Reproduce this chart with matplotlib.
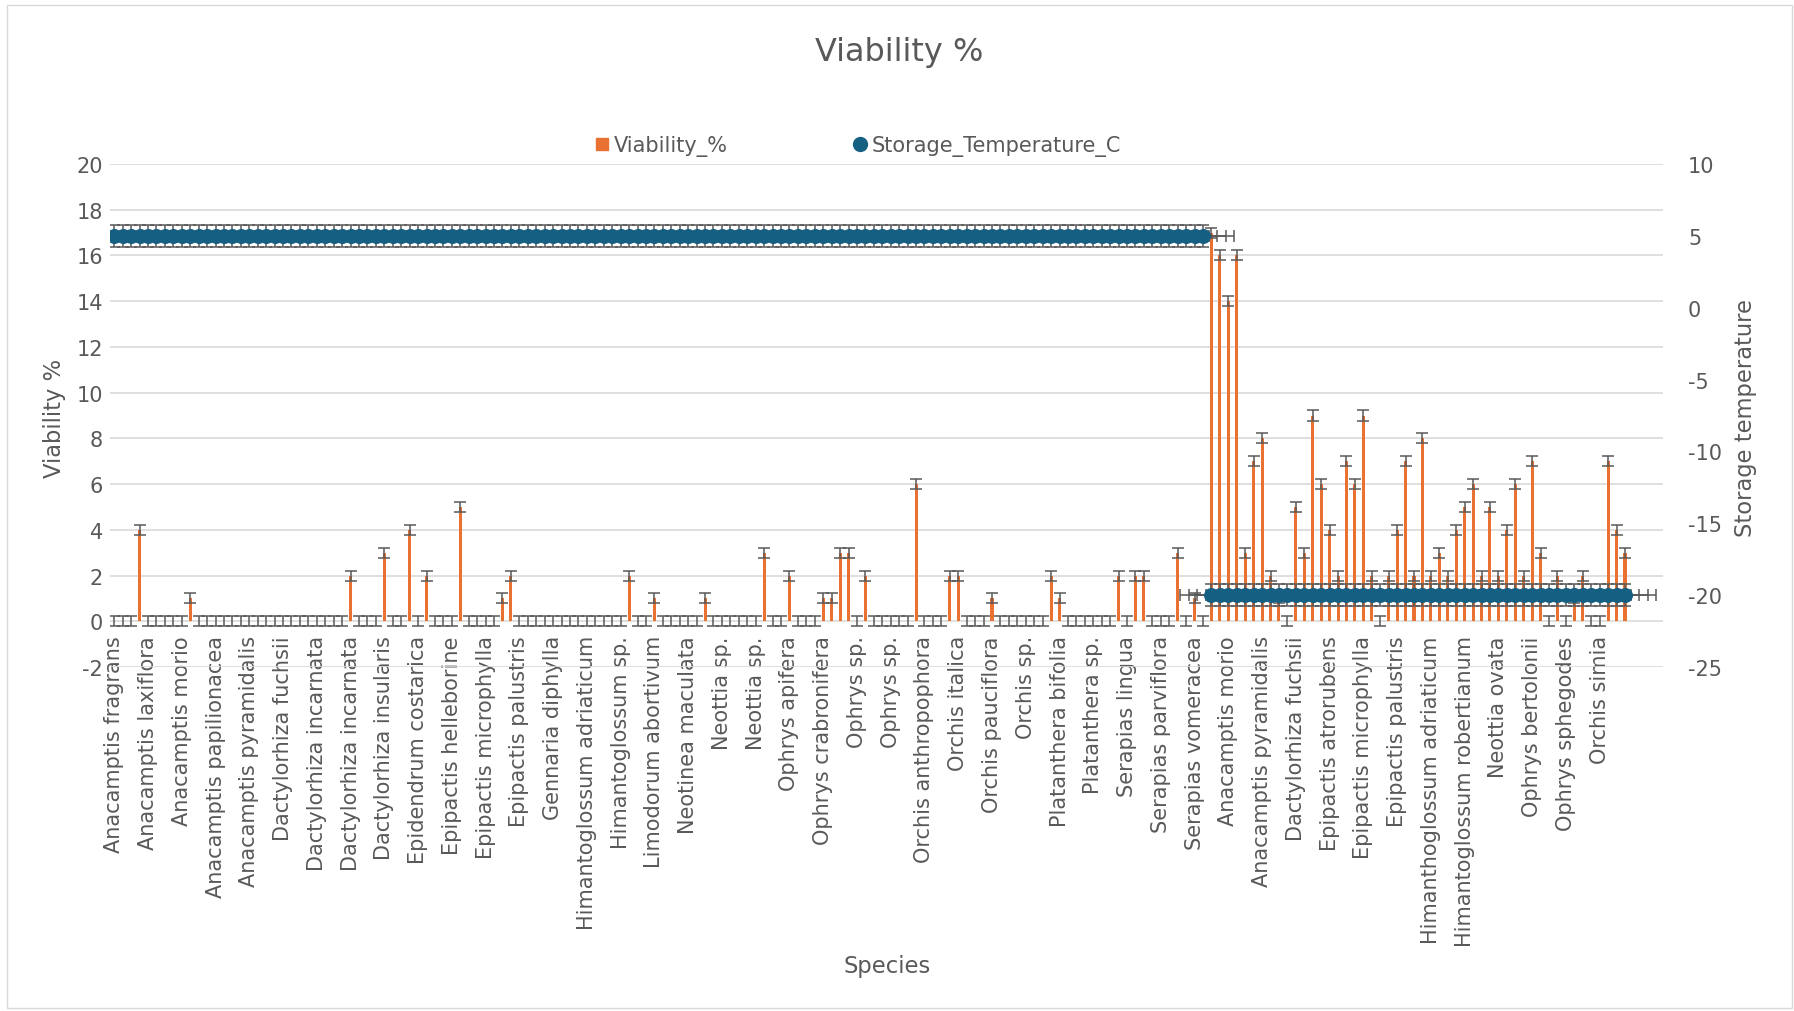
import matplotlib
matplotlib.use("Agg")
import matplotlib.pyplot as plt
from matplotlib.lines import Line2D
from matplotlib.patches import Rectangle

# species names shown on the axis (one every 4 categories)
species_labels = [
    "Anacamptis fragrans", "Anacamptis laxiflora", "Anacamptis morio",
    "Anacamptis papilionacea", "Anacamptis pyramidalis", "Dactylorhiza fuchsii",
    "Dactylorhiza incarnata", "Dactylorhiza incarnata", "Dactylorhiza insularis",
    "Epidendrum costarica", "Epipactis helleborine", "Epipactis microphylla",
    "Epipactis palustris", "Gennaria diphylla", "Himantoglossum adriaticum",
    "Himantoglossum sp.", "Limodorum abortivum", "Neotinea maculata",
    "Neottia sp.", "Neottia sp.", "Ophrys apifera", "Ophrys crabronifera",
    "Ophrys sp.", "Ophrys sp.", "Orchis anthropophora", "Orchis italica",
    "Orchis pauciflora", "Orchis sp.", "Platanthera bifolia", "Platanthera sp.",
    "Serapias lingua", "Serapias parviflora", "Serapias vomeracea",
    "Anacamptis morio", "Anacamptis pyramidalis", "Dactylorhiza fuchsii",
    "Epipactis atrorubens", "Epipactis microphylla", "Epipactis palustris",
    "Himanthoglossum adriaticum", "Himantoglossum robertianum", "Neottia ovata",
    "Ophrys bertolonii", "Ophrys sphegodes", "Orchis simia",
]

# viability % per sample
viability = [
    0, 0, 0, 4, 0, 0, 0, 0, 0, 1, 0, 0, 0, 0, 0, 0, 0, 0, 0, 0,
    0, 0, 0, 0, 0, 0, 0, 0, 2, 0, 0, 0, 3, 0, 0, 4, 0, 2, 0, 0,
    0, 5, 0, 0, 0, 0, 1, 2, 0, 0, 0, 0, 0, 0, 0, 0, 0, 0, 0, 0,
    0, 2, 0, 0, 1, 0, 0, 0, 0, 0, 1, 0, 0, 0, 0, 0, 0, 3, 0, 0,
    2, 0, 0, 0, 1, 1, 3, 3, 0, 2, 0, 0, 0, 0, 0, 6, 0, 0, 0, 2,
    2, 0, 0, 0, 1, 0, 0, 0, 0, 0, 0, 2, 1, 0, 0, 0, 0, 0, 0, 2,
    0, 2, 2, 0, 0, 0, 3, 0, 1, 0, 17, 16, 14, 16, 3, 7, 8, 2, 1, 0,
    5, 3, 9, 6, 4, 2, 7, 6, 9, 2, 0, 2, 4, 7, 2, 8, 2, 3, 2, 4,
    5, 6, 2, 5, 2, 4, 6, 2, 7, 3, 0, 2, 0, 1, 2, 0, 0, 7, 4, 3,
]

# storage temperature (°C) per sample
storage_temp = [
    5, 5, 5, 5, 5, 5, 5, 5, 5, 5, 5, 5, 5, 5, 5, 5, 5, 5, 5, 5,
    5, 5, 5, 5, 5, 5, 5, 5, 5, 5, 5, 5, 5, 5, 5, 5, 5, 5, 5, 5,
    5, 5, 5, 5, 5, 5, 5, 5, 5, 5, 5, 5, 5, 5, 5, 5, 5, 5, 5, 5,
    5, 5, 5, 5, 5, 5, 5, 5, 5, 5, 5, 5, 5, 5, 5, 5, 5, 5, 5, 5,
    5, 5, 5, 5, 5, 5, 5, 5, 5, 5, 5, 5, 5, 5, 5, 5, 5, 5, 5, 5,
    5, 5, 5, 5, 5, 5, 5, 5, 5, 5, 5, 5, 5, 5, 5, 5, 5, 5, 5, 5,
    5, 5, 5, 5, 5, 5, 5, 5, 5, 5, -20, -20, -20, -20, -20, -20, -20, -20, -20, -20,
    -20, -20, -20, -20, -20, -20, -20, -20, -20, -20, -20, -20, -20, -20, -20, -20, -20, -20, -20, -20,
    -20, -20, -20, -20, -20, -20, -20, -20, -20, -20, -20, -20, -20, -20, -20, -20, -20, -20, -20, -20,
]

viability_err = 0.22
temp_yerr = 0.75
temp_xerr = 3.7
n_slots = 184

ORANGE = "#E97132"
BLUE = "#156082"
GREY = "#595959"
GRID = "#D9D9D9"

plt.rcParams["font.family"] = ["DejaVu Sans"]
plt.rcParams["axes.unicode_minus"] = False

fig = plt.figure(figsize=(17.94, 10.12), dpi=100)
ax = fig.add_axes([110 / 1794, 1 - 668 / 1012, 1553 / 1794, 503 / 1012])
ax2 = ax.twinx()

x = list(range(len(viability)))
ax.bar(x, viability, width=0.36, color=ORANGE, zorder=2,
       yerr=viability_err, capsize=4.3,
       error_kw=dict(ecolor=GREY, elinewidth=1.1, capthick=1.1, zorder=3))

ax.set_xlim(-0.5, n_slots - 0.5)
ax.set_ylim(-2, 20)
ax.set_yticks(range(-2, 21, 2))
ax.yaxis.grid(True, color=GRID, linewidth=1.2)
ax.set_axisbelow(True)
for s in ax.spines.values():
    s.set_visible(False)
ax.spines["bottom"].set_position(("data", 0))
ax.set_xticks(range(0, len(species_labels) * 4, 4))
ax.set_xticklabels(species_labels, rotation=90, fontsize=15, color=GREY)
ax.tick_params(axis="x", length=0, pad=10)
ax.tick_params(axis="y", length=0, pad=5, labelsize=15, labelcolor=GREY)

ax2.errorbar(x, storage_temp, yerr=temp_yerr, xerr=temp_xerr, fmt="o",
             ms=9.8, color=BLUE, ecolor=GREY, elinewidth=1.1,
             capsize=4.3, capthick=1.1)
ax2.set_ylim(-25, 10)
ax2.set_yticks(range(-25, 11, 5))
for s in ax2.spines.values():
    s.set_visible(False)
ax2.tick_params(axis="y", length=0, pad=18, labelsize=15, labelcolor=GREY)

fig.text(899 / 1794, 1 - 53 / 1012, "Viability %", ha="center", va="center",
         fontsize=23, color=GREY)
fig.text(55 / 1794, 1 - 418 / 1012, "Viability %", ha="center", va="center",
         rotation=90, fontsize=16.3, color=GREY)
fig.text(1745 / 1794, 1 - 418 / 1012, "Storage temperature", ha="center",
         va="center", rotation=90, fontsize=16.3, color=GREY)
fig.text(887 / 1794, 1 - 967 / 1012, "Species", ha="center", va="center",
         fontsize=16.3, color=GREY)

handles = [
    Line2D([], [], marker="s", ls="", color=ORANGE, ms=8),
    Line2D([], [], marker="o", ls="", color=BLUE, ms=10),
]
fig.legend(handles, ["Viability_%", "Storage_Temperature_C"], loc="center",
           bbox_to_anchor=(858 / 1794, 1 - 147 / 1012), ncol=2, frameon=False,
           fontsize=15, labelcolor=GREY, handlelength=0.7,
           handletextpad=0.2, columnspacing=6)

fig.add_artist(Rectangle((7 / 1794, 3 / 1012), 1785 / 1794, 1003 / 1012,
                         transform=fig.transFigure, fill=False,
                         edgecolor=GRID, linewidth=1))

fig.savefig("out.png", dpi=100, facecolor="white")
